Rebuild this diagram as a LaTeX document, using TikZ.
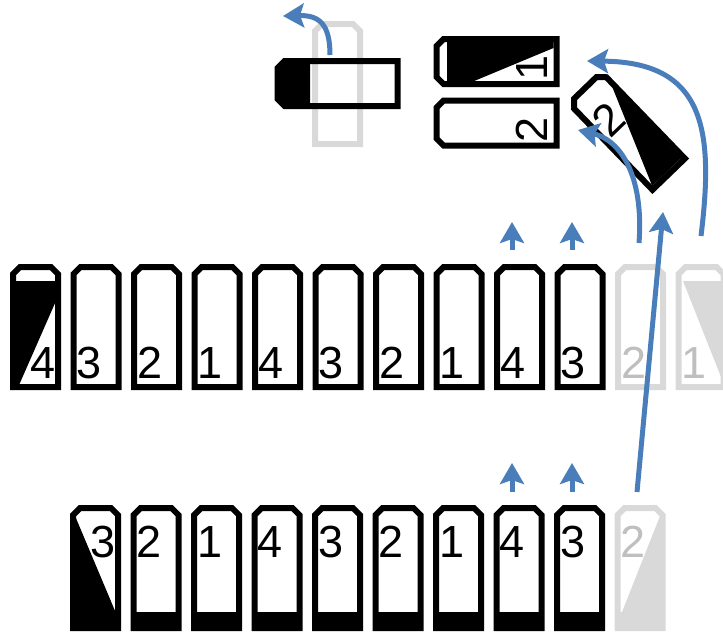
\documentclass[tikz,border=0pt]{standalone}
\usepackage{fontspec}
\setmainfont{Liberation Sans}
\usetikzlibrary{arrows.meta}
\definecolor{blu}{RGB}{74,126,187}
\definecolor{grigio}{RGB}{217,217,217}
\definecolor{grigiotesto}{RGB}{191,191,191}

\begin{document}
\begin{tikzpicture}[x=0.5pt, y=-0.5pt,
    cella/.style={draw=black, line width=3pt},
    fantasma/.style={draw=grigio, line width=3pt},
    cifra/.style={font=\fontsize{22.5}{22.5}\selectfont, inner sep=0pt, anchor=base west},
    freccia/.style={draw=blu, line width=2.5pt, -{Stealth[length=10.5pt, width=12pt, inset=2pt]}}]

  \useasboundingbox (0,0) rectangle (723,632);
  \clip (0,0) rectangle (723,632);

  \def\cellpath{(-22.5,60) -- (-22.5,-53) -- (-15.5,-60) -- (15.5,-60) -- (22.5,-53) -- (22.5,60) -- cycle}

  % riga centrale
  \begin{scope}[shift={(35.5,327)}]
    \fill (-20,-46) -- (20,-46) -- (20,-25) -- (-16,57) -- (-20,57) -- cycle;
    \draw[cella] \cellpath;
    \node[cifra] (m0) at (-5,51) {4};
  \end{scope}
  \foreach \n [count=\k from 1] in {3,2,1,4,3,2,1,4,3} {
    \begin{scope}[shift={(35.5+60.5*\k,327)}]
      \draw[cella] \cellpath;
      \node[cifra] (m\k) at (-19.5,51) {\n};
    \end{scope}
  }
  \begin{scope}[shift={(640.5,327)}]
    \draw[fantasma] \cellpath;
    \node[cifra, text=grigiotesto] (m10) at (-19.5,51) {2};
  \end{scope}
  \begin{scope}[shift={(701,327)}]
    \fill[grigio] (-18,-46) -- (20,-46) -- (20,50) -- cycle;
    \draw[fantasma] \cellpath;
    \node[cifra, text=grigiotesto] (m11) at (-19.5,51) {1};
  \end{scope}

  % riga in basso
  \begin{scope}[shift={(95.5,568)}]
    \fill (-20,-51) -- (20,44) -- (-20,44) -- cycle;
    \fill (-22.5,44) rectangle (22.5,60);
    \draw[cella] \cellpath;
    \node[cifra] (b0) at (-5,-11) {3};
  \end{scope}
  \foreach \n [count=\k from 1] in {2,1,4,3,2,1,4,3} {
    \begin{scope}[shift={(95.5+60.5*\k,568)}]
      \fill (-22.5,44) rectangle (22.5,60);
      \draw[cella] \cellpath;
      \node[cifra] (b\k) at (-19.5,-11) {\n};
    \end{scope}
  }
  \begin{scope}[shift={(640,568)}]
    \fill[grigio] (20,-52) -- (-18,44) -- (20,44) -- cycle;
    \fill[grigio] (-22.5,44) rectangle (22.5,60);
    \draw[fantasma] \cellpath;
    \node[cifra, text=grigiotesto] (b9) at (-19.5,-11) {2};
  \end{scope}

  % in alto
  \begin{scope}[shift={(337.5,84)}]
    \draw[fantasma] \cellpath;
  \end{scope}
  \begin{scope}[shift={(337.5,83.5)}, rotate=90]
    \fill (-22.5,-27.5) -- (-22.5,-53) -- (-15.5,-60) -- (15.5,-60) -- (22.5,-53) -- (22.5,-27.5) -- cycle;
    \draw[cella] \cellpath;
  \end{scope}
  \begin{scope}[shift={(496.5,61.5)}, rotate=90, transform shape]
    \fill (-20,-49.5) -- (20,-49.5) -- (20,57) -- (13.5,57) -- (-20,-23.5) -- cycle;
    \draw[cella] \cellpath;
    \node[cifra] (t1) at (-19.5,51) {1};
  \end{scope}
  \begin{scope}[shift={(496.5,123)}, rotate=90, transform shape]
    \draw[cella] \cellpath;
    \node[cifra] (t2) at (-19.5,51) {2};
  \end{scope}
  \begin{scope}[shift={(627,131)}, rotate=44, transform shape]
    \fill (20,-42) -- (20,57) -- (-20,57) -- cycle;
    \draw[cella] \cellpath;
    \node[cifra] (r2) at (-18.5,-5) {2};
  \end{scope}

  % frecce
  \coordinate (da) at (330,55);   \coordinate (aa) at (283,16);
  \coordinate (db) at (637,492);  \coordinate (ab) at (663,212);
  \coordinate (dc) at (639,243);  \coordinate (ac) at (578,130);
  \coordinate (dd) at (701,236);  \coordinate (ad) at (587,61);
  \draw[freccia] (da) .. controls (330,25) and (320,15) .. (aa);
  \draw[freccia] (db) -- (ab);
  \draw[freccia] (dc) .. controls (644,175) and (620,140) .. (ac);
  \draw[freccia] (dd) .. controls (714,130) and (705,62) .. (ad);
  \foreach \x in {512,572} {
    \draw[freccia] (\x,250) -- (\x,222);
    \draw[freccia] (\x,492) -- (\x,463);
  }
\end{tikzpicture}
\end{document}
